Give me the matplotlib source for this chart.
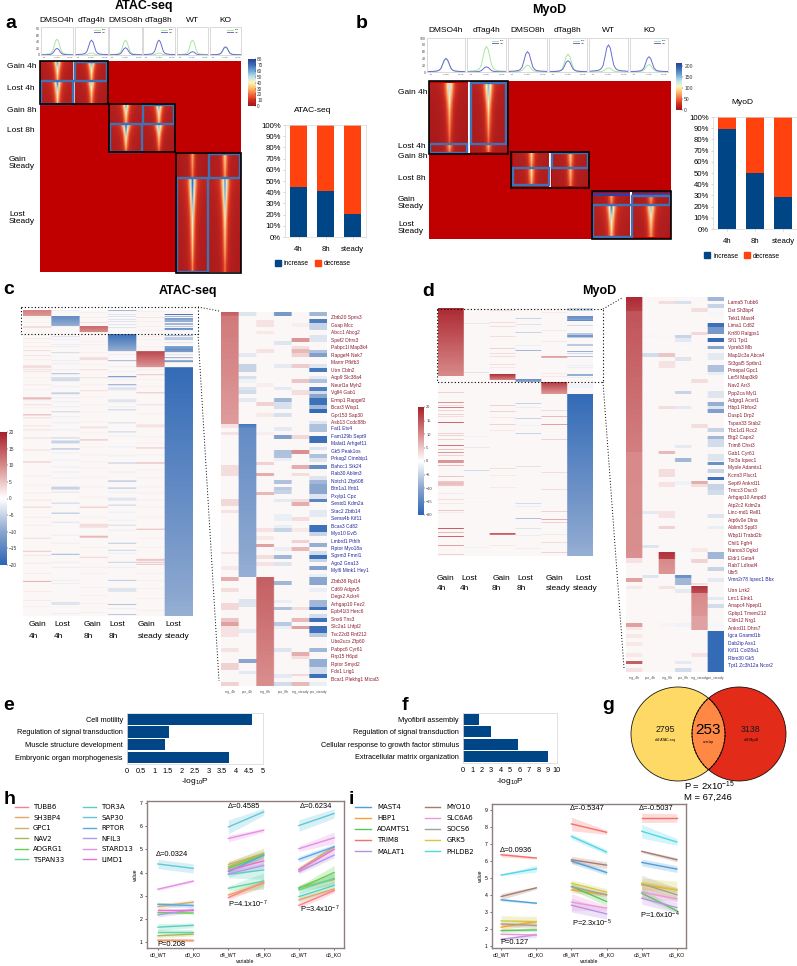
import numpy as np
import matplotlib
matplotlib.use('Agg')
import matplotlib.pyplot as plt
from matplotlib.colors import LinearSegmentedColormap
from matplotlib.patches import Rectangle, Circle, Patch

plt.rcParams['font.family'] = ['Liberation Sans', 'DejaVu Sans']
plt.rcParams['mathtext.default'] = 'regular'
W, H = 797, 966
fig = plt.figure(figsize=(W / 100, H / 100), dpi=100, facecolor='white')

# ---------- DATA ----------
bar_cats = ['4h', '8h', 'steady']
atac_increase = [45, 41, 20.5]
myod_increase = [89.5, 50, 29]
pct_labels = ['%d%%' % v for v in range(0, 101, 10)]

mini_heads = ['DMSO4h', 'dTag4h', 'DMSO8h', 'dTag8h', 'WT', 'KO']
profile_shape = [.03, .03, .04, .04, .05, .06, .08, .13, .25, .55, .88, 1, .88, .55, .25, .13, .08, .06, .05, .04, .04, .03, .03]
a_lost_peak = [20, 45, 22, 45, 10, 25]
a_gain_peak = [48, 6, 45, 6, 45, 23]
b_lost_peak = [40, 15, 60, 33, 80, 45]
b_gain_peak = [38, 75, 20, 52, 12, 22]

tor_short = [[5, 5, 5, 6, 7, 8, 11, 20, 38, 60], [4, 5, 5, 5, 6, 7, 9, 15, 30, 48],
             [4, 4, 4, 5, 5, 6, 8, 12, 24, 40], [3, 4, 4, 4, 5, 5, 7, 10, 20, 34],
             [3, 3, 4, 4, 4, 5, 6, 9, 17, 29]]
tor_long = [[6, 6, 6, 7, 8, 10, 14, 26, 46, 66], [5, 5, 5, 6, 6, 8, 11, 20, 38, 60],
            [4, 4, 5, 5, 6, 7, 9, 14, 30, 50], [4, 4, 4, 5, 5, 6, 8, 11, 24, 42],
            [3, 4, 4, 4, 5, 5, 7, 10, 20, 36], [3, 3, 4, 4, 4, 5, 6, 9, 17, 32],
            [3, 3, 3, 4, 4, 5, 6, 8, 14, 28], [3, 3, 3, 3, 4, 4, 5, 7, 11, 22]]
tor_faint = [[3, 3, 4, 4, 4, 5, 6, 9, 18, 30], [3, 3, 3, 4, 4, 4, 5, 8, 16, 27], [3, 3, 3, 3, 4, 4, 5, 7, 13, 23]]

# heat c: per-column (row, value) stripes; whole-block gradients (col, start, stop, top, bottom)
c_rows = 306
c_blocks = [(0, 0, 7, 11, 9), (1, 7, 17, -14, -9), (2, 17, 23, 13, 10), (3, 25, 42, -18, -9),
            (4, 42, 58, 16, 9), (5, 58, 306, -19, -9)]
c_col1 = [(8, 1.5), (13, 1.5), (17, 3), (18, 3), (29, 2), (33, 1.5), (37, 2), (41, 3), (46, 2.5), (50, 1.5), (56, 3), (57, 3), (58, 3), (60, 2.5), (62, 2.5), (68, 1.5), (75, 2), (80, 1.5), (88, 6), (89, 6), (90, 2), (95, 3), (98, 1.5), (105, 7), (108, 3), (116, 2.5), (120, 3), (128, 3), (140, 3), (152, 5), (166, 2), (175, 1.5), (183, 2), (190, 2.5), (197, 4), (207, 2), (215, 2), (228, 3), (241, 5), (245, 2.5), (253, 2), (263, 2), (271, 7), (281, 2), (290, 2), (296, 1.5)]
c_col2 = [(1, -2), (27, -3), (30, -2), (35, -2), (37, -2), (43, -4), (51, -2), (54, -2), (60, -2), (64, -7), (68, -4), (69, -4), (70, -4), (71, -4), (77, -2), (83, -5), (84, -5), (88, -2), (92, -2), (97, -2), (102, -5), (107, -2), (113, -2), (120, -2), (128, -5), (131, -5), (132, -5), (133, -5), (139, -8), (143, -2), (150, -2), (157, -2), (162, -2), (168, -2), (177, -5), (178, -5), (179, -5), (182, -3), (193, -5), (203, -7), (212, -3), (225, -2), (233, -2), (244, -8), (252, -2), (257, -2), (270, -2), (273, -2), (292, -3), (293, -3), (294, -3), (303, -2)]
c_col3 = [(3, 1.5), (8, 1.5), (13, 3), (32, 1.5), (35, 1.5), (43, 1.5), (48, 3), (49, 3), (50, 3), (55, 1.5), (60, 3), (68, 3), (75, 1.5), (81, 3), (87, 1.5), (95, 1.5), (102, 1.5), (112, 1.5), (117, 2.5), (118, 2.5), (123, 1.5), (130, 6), (137, 1.5), (145, 1.5), (152, 1.5), (158, 1.5), (167, 1.5), (177, 1.5), (187, 1.5), (197, 5), (207, 1.5), (214, 3), (215, 3), (216, 3), (217, 3), (226, 6), (227, 6), (237, 1.5), (247, 4), (257, 1.5), (263, 1.5), (277, 1.5), (285, 1.5), (293, 1.5), (302, 1.5)]
c_col4 = [(1, -8), (5, -3), (7, -3), (10, -3), (12, -3), (15, -3), (18, -3), (45, -2), (51, -8), (57, -2), (62, -2), (67, -14), (70, -2), (75, -10), (78, -3), (79, -3), (80, -3), (90, -3), (91, -3), (92, -3), (97, -2), (100, -5), (113, -4), (122, -5), (126, -2), (137, -2), (146, -2), (153, -6), (162, -2), (171, -8), (178, -7), (182, -2), (188, -3), (189, -3), (190, -3), (195, -5), (202, -2), (210, -2), (215, -4), (220, -2), (233, -6), (240, -5), (243, -2), (252, -5), (257, -2), (270, -6), (278, -3), (279, -3), (280, -3), (281, -3), (294, -7), (298, -2), (304, -6)]
c_col5 = [(2, 1.5), (8, 2.5), (12, 1.5), (17, 1.5), (21, 1.5), (27, 1.5), (30, 1.5), (37, 1.5), (60, 2), (65, 5), (70, 1.5), (77, 1.5), (83, 5), (95, 3), (104, 1.5), (115, 2.5), (116, 2.5), (117, 2.5), (127, 1.5), (133, 1.5), (138, 5), (145, 1.5), (153, 7), (160, 1.5), (168, 1.5), (177, 1.5), (183, 1.5), (190, 1.5), (197, 1.5), (207, 1.5), (219, 6), (228, 1.5), (237, 1.5), (249, 5), (250, 5), (252, 5), (254, 5), (263, 1.5), (270, 1.5), (278, 1.5), (288, 1.5), (300, 1.5)]
c_col6 = [(0, -9), (5, -17), (7, -8), (9, -12), (10, -10), (11, -9), (12, -9), (14, -8), (15, -8), (17, -6), (19, -14), (20, -12), (26, -8), (28, -6), (29, -6), (30, -6), (33, -3), (37, -12), (38, -12), (39, -12), (40, -14), (41, -12), (42, -12), (45, -3), (48, -9), (51, -11), (52, -11)]

# heat d
d_rows = 248
d_blocks = [(0, 0, 68, 19, 10), (2, 66, 72, 18, 11), (3, 71, 74, -13, -10), (4, 74, 86, 17, 9), (5, 86, 248, -19, -9)]
d_col1 = [(84, 4), (94, 9), (97, 3), (99, 11), (102, 4), (106, 4), (108, 3), (114, 13), (125, 4), (127, 4), (131, 4), (137, 12), (141, 5), (144, 9), (147, 4), (152, 9), (153, 9), (154, 9), (157, 6), (168, 5), (173, 5), (174, 5), (175, 6), (176, 5), (177, 5), (185, 2), (191, 3), (195, 2), (202, 5), (204, 2), (220, 14), (224, 6), (228, 13), (237, 8), (246, 4)]
d_col2 = [(15, -2.5), (56, -1), (64, -3), (128, -1.5), (139, -2.5), (162, -4), (190, -1), (193, -1), (230, -1), (239, -1.5)]
d_col3 = [(2, 3), (14, 3), (18, 3), (28, 3), (40, 4), (45, 3), (48, 3), (56, 3), (59, 2), (97, 4), (103, 4), (109, 2), (116, 4), (122, 2), (160, 3), (167, 2), (179, 2), (225, 14), (226, 12), (237, 2)]
d_col4 = [(1, -1), (10, -5), (16, -3), (24, -5), (37, -2), (42, -8), (48, -1), (95, -5), (99, -2), (110, -5), (117, -1.5), (125, -5), (158, -3), (176, -1), (195, -4), (198, -2), (210, -7), (220, -3), (227, -2), (240, -2)]
d_col5 = [(4, 2), (22, 2), (33, 2), (48, 8), (49, 7), (65, 2), (68, 2), (102, 3), (108, 6), (116, 8), (131, 4), (164, 3), (181, 3), (203, 4), (211, 7), (214, 4), (226, 2), (234, 3), (244, 4)]
d_col6 = [(0, -5), (1, -5), (2, -5), (8, -13), (9, -13), (10, -12), (11, -11), (12, -14), (17, -4), (25, -6), (26, -6), (27, -12), (28, -12), (29, -6), (36, -6), (37, -6), (43, -9), (45, -4), (48, -7), (57, -2), (59, -2), (66, -9), (67, -9), (69, -2), (76, -1.5), (77, -1.5), (78, -1.5), (79, -1.5)]

# zoomed c: (start, stop, value) per column
zc_rows = 374
zc_blocks = [(0, 0, 4, 14, 13), (0, 4, 112, 11.5, 8.5), (1, 112, 116, -17, -15), (1, 116, 265, -14, -9), (2, 265, 374, 14, 9.5)]
zc_col1 = [(112, 116, 2.5), (120, 123, 2.5), (153, 164, 3), (187, 194, 3.5), (198, 201, 2.5), (240, 242, 2.5), (254, 258, 2), (265, 269, 7), (276, 280, 3), (291, 298, 3.5), (306, 310, 5), (310, 314, 8), (314, 325, 2.5), (336, 340, 2.5), (351, 358, 4), (370, 374, 4)]
zc_col2 = [(0, 4, -3), (41, 45, -2.5), (52, 60, -5), (64, 67, -3.5), (67, 71, -1.5), (75, 78, -3), (78, 82, -4), (86, 90, -2.5), (287, 295, -3), (317, 321, -2.5), (347, 351, -10), (359, 362, -2.5)]
zc_col3 = [(8, 15, 2.5), (19, 22, 2), (37, 41, 2.5), (71, 75, 1.5), (90, 94, 4), (101, 105, 2), (120, 123, 1.5), (150, 153, 4), (161, 164, 7), (180, 183, 6), (216, 220, 2.5), (224, 228, 2), (232, 235, 8), (243, 247, 3), (250, 254, 2.5)]
zc_col4 = [(0, 4, -12), (29, 33, -3), (52, 56, -2.5), (75, 78, -2.5), (86, 90, -8), (90, 97, -3.5), (101, 105, -3.5), (115, 119, -2.5), (123, 127, -11), (138, 146, -7), (146, 149, -2), (168, 172, -7), (175, 178, -6), (178, 182, -5), (187, 190, -2.5), (202, 209, -2), (213, 216, -2), (216, 220, -5), (235, 239, -2), (243, 247, -8), (250, 254, -3), (269, 273, -8), (288, 291, -2), (295, 298, -7), (310, 314, -6), (314, 317, -2), (336, 340, -3), (362, 366, -2.5), (370, 374, -4)]
zc_col5 = [(11, 15, 1.5), (26, 30, 9), (34, 37, 3), (37, 41, 6), (41, 45, 4), (52, 56, 4.5), (67, 71, 5), (78, 83, 3), (123, 127, 3.5), (138, 142, 9.5), (153, 157, 7), (161, 164, 3), (187, 190, 3), (190, 194, 7), (205, 209, 3), (216, 220, 2), (228, 231, 4), (235, 239, 6), (295, 298, 3), (306, 310, 6), (314, 317, 8), (340, 344, 7), (344, 347, 3), (362, 364, 3.5), (370, 374, 6)]
zc_col6 = [(0, 4, -8), (7, 11, -16), (11, 18, -5), (23, 30, -3), (38, 41, -7), (41, 45, -11), (52, 56, -3), (56, 60, -17), (64, 67, -2.5), (67, 71, -7), (75, 79, -16), (79, 82, -4), (82, 86, -10), (86, 93, -18), (93, 97, -8), (97, 101, -19), (109, 112, -3), (112, 120, -7), (124, 131, -18), (135, 138, -3), (142, 146, -7), (146, 150, -3), (153, 157, -14), (164, 168, -3), (168, 172, -8), (172, 182, -10), (182, 187, -3), (187, 190, -15), (198, 205, -2.5), (213, 220, -18), (220, 224, -5), (231, 235, -9), (239, 243, -4), (243, 247, -18), (247, 250, -5), (254, 258, -11), (262, 265, -2), (265, 273, -10), (276, 280, -2), (288, 295, -8), (295, 298, -18), (302, 306, -4), (306, 310, -18), (314, 321, -18), (321, 325, -6), (336, 340, -8), (347, 355, -9), (355, 362, -4), (362, 366, -18), (370, 374, -2)]

# zoomed d
zd_rows = 375
zd_blocks = [(0, 0, 14, 19, 17), (0, 14, 155, 15, 11), (0, 155, 261, 10, 9.5), (2, 255, 262, 18, 17), (2, 262, 277, 10, 9), (3, 278, 281, -13, -13), (3, 281, 288, -8, -8), (4, 289, 296, 18, 16), (4, 296, 319, 10, 9), (4, 319, 333, 8, 8), (5, 334, 375, -19, -19)]
zd_col1 = [(261, 266, 2.5), (281, 285, 8), (289, 292, 2), (326, 330, 8), (330, 333, 2), (337, 341, 2), (345, 349, 2), (356, 360, 2), (364, 367, 14), (371, 375, 2.5)]
zd_col2 = [(38, 41, -1), (56, 60, -4), (214, 217, -2.5), (248, 251, -3), (278, 281, -3)]
zd_col3 = [(4, 7, 3), (38, 41, .8), (56, 60, 5), (64, 71, 2.5), (109, 112, 3), (154, 157, 6), (172, 180, 3), (185, 190, 2.5), (214, 221, 2.5), (229, 232, 4), (289, 292, 2.5), (326, 330, 1)]
zd_col4 = [(4, 7, -3.5), (38, 41, -5), (41, 45, -2.5), (49, 52, -.7), (60, 64, -3), (94, 97, -5), (109, 112, -2.5), (148, 151, -2.5), (161, 165, -8), (184, 188, -1.5), (255, 262, -.7), (292, 296, -2.5), (326, 330, -1.5), (364, 367, -2.5), (371, 375, -4)]
zd_col5 = [(11, 15, 3), (35, 38, 3.5), (82, 86, 3), (127, 131, 3), (184, 187, 7), (187, 190, 3), (251, 255, 2), (262, 266, 4), (286, 288, 3), (356, 360, 2.5)]
zd_col6 = [(0, 4, -8), (7, 11, -5), (15, 18, -1), (26, 30, -18), (30, 37, -12), (41, 45, -19), (49, 52, -10), (56, 63, -2.5), (68, 75, -7), (75, 78, -2), (94, 101, -3), (105, 109, -9), (109, 112, -3), (112, 116, -11), (131, 135, -5), (139, 142, -8), (142, 150, -4), (157, 164, -3), (165, 168, -13), (172, 176, -5), (180, 183, -18), (187, 193, -5), (193, 198, -4), (217, 221, -3), (229, 232, -2), (255, 262, -8), (270, 274, -5), (281, 285, -2.5), (300, 303, -2.5), (307, 311, -4), (326, 330, -1)]

zc_red1 = ['Zbtb20 Spns3', 'Gsap Mcc', 'Abcc1 Abcg2', 'Spef2 Dhrs3', 'Pabpc1l Map3k4', 'Rapgef4 Nek7', 'Manrr Pfkfb3', 'Utrn Cbln2', 'Aqp9 Slc38a4', 'Neurl1a Myh2', 'Vgll4 Gab1', 'Ermp1 Rapgef2', 'Bcar3 Wisp1', 'Gpr153 Sap30', 'Asb13 Ccdc88b']
zc_blue = ['Fat1 Etv4', 'Fam129b Sept9', 'Malat1 Arhgef11', 'Gk5 Peak1os', 'Prkag2 Ctnnbip1', 'Bahcc1 Stk24', 'Rab30 Ablim3', 'Notch1 Zfp608', 'Btn1a1 Ifnb1', 'Pxylp1 Cpz', 'Sestd1 Kdm2a', 'Stac2 Zbtb14', 'Sema4b Kif11', 'Bcas3 Cd82', 'Myo10 Evi5', 'Lmbrd1 Pthlh', 'Rptor Myo18a', 'Sgsm3 Fmnl1', 'Ago2 Gna13', 'Myl6 Mink1 Hey1']
zc_red2 = ['Zbtb38 Rpl14', 'Cd69 Adgrv5', 'Degs2 Ackr4', 'Arhgap10 Fez2', 'Epb41l3 Herc6', 'Snx6 Tns3', 'Slc2a1 Lhfpl2', 'Tsc22d3 Rnf212', 'Ube2ucs Zfp60', 'Pabpc6 Cyr61', 'Rrp15 H6pd', 'Rptor Smyd2', 'Fdx1 Lrig1', 'Bcar1 Plekhg1 Mical3']
zd_red1 = ['Lama5 Tubb6', 'Dst Sh3bp4', 'Tekt1 Mast4', 'Lima1 Cd82', 'Krt80 Ralgps1', 'Sfi1 Tpt1', 'Vpreb3 Mb', 'Map1lc3a Abca4', 'St3gal5 Sptbn1', 'Pmepal Gpc1', 'Ler5l Map3k9', 'Nav2 Arr3', 'Ppp2ca Myl1', 'Adgrg1 Acvrl1', 'Hbp1 Rbfox2', 'Dusp1 Drp2', 'Tspan33 Stab2', 'Tbc1d1 Rcc2', 'Btg2 Capn2', 'Trim8 Chst3', 'Gab1 Cyr61', 'Tor3a Iqsec1', 'Myole Adamts1', 'Kcnn3 Plscr1', 'Sept9 Ankrd11', 'Tmcc3 Dscr3', 'Arhgap10 Ampd3', 'Atp2c2 Kdm2a', 'Linc-md1 Rell1', 'Atp6v0e Dlna', 'Ablim3 Sppl3', 'Wbp1l Trabd2b', 'Chil1 Fgfr4', 'Nanos3 Dgkd', 'Eldr1 Gata4', 'Rab7 Ldlrad4', 'Ubr5']
zd_blue1 = ['Vmn2r78 Iqsec1 Bbx']
zd_red2 = ['Utrn Lrrk2', 'Lrrc1 Elnk1', 'Anapc4 Npepl1', 'Gpbp1 Tmem212', 'Cldn12 Nrg1', 'Ankrd11 Dhrs7']
zd_blue2 = ['Igca Gnamd1b', 'Dab2ip Ass1', 'Kif11 Col28a1', 'Rbm30 Gk5', 'Tpt1 Zc3h12a Ncor2']
zoom_cols = ['reg_4h', 'pro_4h', 'reg_8h', 'pro_8h', 'reg_steady', 'pro_steady']

e_terms = ['Cell motility', 'Regulation of signal transduction', 'Muscle structure development', 'Embryonic organ morphogenesis']
e_vals = [4.6, 1.55, 1.4, 3.75]
f_terms = ['Myofibril assembly', 'Regulation of signal transduction', 'Cellular response to growth factor stimulus', 'Extracellular matrix organization']
f_vals = [1.75, 3.0, 5.8, 9.0]

venn_counts = ['2795', '253', '3138']

time_labels = ['d0_WT', 'd0_KO', 'd4_WT', 'd4_KO', 'd6_WT', 'd6_KO']
h_genes = ['TUBB6', 'SH3BP4', 'GPC1', 'NAV2', 'ADGRG1', 'TSPAN33', 'TOR3A', 'SAP30', 'RPTOR', 'NFIL3', 'STARD13', 'LIMD1']
h_colors = ['#f9808f', '#efa162', '#cfae68', '#abb855', '#63cf4e', '#5fd6a0', '#58d0b8', '#62c6d8', '#5aa8e6', '#b09aee', '#e48fe6', '#ec70d2']
h_vals = [[1.07, 1.06, 2.92, 3.58, 2.58, 3.22], [1.1, 1.1, 3.03, 3.53, 2.82, 3.29],
          [2.53, 2.72, 4.35, 4.82, 4.14, 5.11], [1.27, 1.34, 4.25, 4.82, 3.35, 3.7],
          [2.27, 2.25, 4.18, 4.75, 3.32, 4.0], [1.43, 1.43, 3.32, 3.63, 3.25, 3.75],
          [1.64, 1.72, 3.92, 4.11, 2.96, 3.44], [4.37, 4.18, 5.97, 6.62, 6.03, 6.55],
          [2.63, 2.57, 4.04, 4.75, 4.57, 5.11], [2.17, 2.39, 3.94, 4.3, 4.04, 4.75],
          [3.28, 3.63, 5.47, 5.83, 5.03, 5.5], [2.36, 2.36, 4.1, 4.5, 4.11, 5.0]]
h_band = [[.05, .05, .1, .15, .12, .1], [.05, .05, .12, .2, .12, .1],
          [.12, .1, .15, .15, .12, .1], [.08, .08, .2, .25, .12, .25],
          [.05, .05, .15, .15, .1, .3], [.1, .1, .1, .35, .15, .25],
          [.15, .1, .15, .4, .2, .2], [.2, .2, .3, .15, .25, .2],
          [.08, .1, .12, .1, .12, .12], [.1, .1, .12, .12, .1, .12],
          [.06, .06, .15, .08, .12, .25], [.06, .06, .15, .15, .12, .15]]
i_genes = ['MAST4', 'HBP1', 'ADAMTS1', 'TRIM8', 'MALAT1', 'MYO10', 'SLC6A6', 'SOCS6', 'GRK5', 'PHLDB2']
i_colors = ['#4f9fd8', '#fb9f32', '#58c858', '#f4706a', '#bb92e2', '#a87a70', '#ee96d8', '#a0a0a0', '#cfc945', '#50d6e6']
i_vals = [[3.73, 3.53, 6.0, 5.33, 5.92, 5.53], [2.12, 2.45, 4.31, 4.02, 4.6, 4.31],
          [1.92, 1.96, 4.51, 3.63, 4.12, 3.08], [6.37, 6.18, 8.18, 7.69, 8.53, 8.53],
          [1.41, 1.67, 3.41, 2.9, 3.82, 3.27], [3.92, 4.43, 6.08, 5.76, 6.57, 6.08],
          [1.71, 1.67, 3.59, 3.24, 4.18, 3.78], [2.31, 2.22, 4.5, 4.02, 4.67, 4.02],
          [2.49, 2.45, 4.7, 4.18, 4.7, 4.31], [5.18, 5.55, 7.45, 6.53, 7.75, 7.12]]
i_band = [[.08, .05, .15, .15, .2, .2], [.2, .08, .15, .1, .25, .15],
          [.1, .1, .2, .25, .3, .08], [.12, .06, .4, .12, .27, .25],
          [.06, .15, .4, .3, .35, .3], [.18, .08, .2, .2, .08, .12],
          [.05, .05, .5, .15, .35, .15], [.12, .2, .15, .15, .5, .4],
          [.3, .3, .2, .2, .3, .5], [.05, .2, .15, .15, .4, .2]]

# ---------- HELPERS ----------
def A(x0, y0, x1, y1, **kw):
    return fig.add_axes([x0 / W, 1 - y1 / H, (x1 - x0) / W, (y1 - y0) / H], **kw)

px = fig.add_axes([0, 0, 1, 1], zorder=5)
px.axis('off'); px.patch.set_alpha(0)

def T(x, y, s, size=6, **kw):
    kw.setdefault('va', 'center'); kw.setdefault('ha', 'left')
    px.text(x, y, s, fontsize=size, **kw)

tor_cmap = LinearSegmentedColormap.from_list('tor', [(0, '#a41618'), (.06, '#b4201e'), (.13, '#d4301f'), (.25, '#f46d43'),
    (.38, '#fdc070'), (.5, '#fff5c0'), (.62, '#bfe3ee'), (.75, '#6fa8d5'), (.87, '#4070b5'), (1, '#2a3f95')])
div_cmap = LinearSegmentedColormap.from_list('dv', [(0, '#2b65b5'), (.25, '#8aa6cf'), (.42, '#dde4ef'),
    (.5, '#ffffff'), (.58, '#f4dcdc'), (.75, '#d88a8a'), (1, '#a8202a')])

def tornado(x0, y0, x1, y1, tmpl, k=1.0):
    m = np.array(tmpl, float) * k
    m = np.hstack([m, m[:, -2::-1]])
    px.imshow(m, extent=[x0, x1, y1, y0], cmap=tor_cmap, vmin=0, vmax=80, aspect='auto', interpolation='bilinear', zorder=2)

def box(x0, y0, x1, y1, color='#3f73b8', lw=1.7, z=3, ls='-'):
    px.add_patch(Rectangle((x0, y0), x1 - x0, y1 - y0, fill=False, ec=color, lw=lw, zorder=z, ls=ls))

def mini(x0, y0, x1, y1, lost, gain, ymax, yticks, first, legend):
    ax = A(x0, y0, x1, y1)
    xs = np.arange(len(profile_shape))
    ax.plot(xs, np.array(profile_shape) * gain, color='#a8e6a0', lw=.7, label='gain')
    ax.plot(xs, np.array(profile_shape) * lost, color='#6a6ad6', lw=.7, label='lost')
    ax.set_xlim(0, xs[-1]); ax.set_ylim(0, ymax)
    ax.set_xticks([2, 11, 20]); ax.set_xticklabels(['-1.0', 'center', '1.0Kb'], fontsize=1.7, color='#555555')
    ax.set_yticks(yticks)
    if first:
        ax.set_yticklabels([str(v) for v in yticks], fontsize=2.5, color='#444444')
    else:
        ax.set_yticklabels([]); ax.tick_params(axis='y', length=0)
    ax.tick_params(length=.6, width=.2, pad=.5, color='#999999')
    for s in ax.spines.values():
        s.set_color('#d4d4d4'); s.set_linewidth(.6)
    if legend:
        ax.legend(fontsize=1.6, frameon=False, loc='upper right', handlelength=3, borderpad=.3)

def colorbar(x0, y0, x1, y1, cmap, vmin, vmax, ticks, size):
    ax = A(x0, y0, x1, y1)
    g = np.linspace(vmax, vmin, 256)[:, None]
    ax.imshow(g, extent=[0, 1, vmin, vmax], cmap=cmap, vmin=vmin, vmax=vmax, aspect='auto')
    ax.set_xticks([]); ax.yaxis.tick_right(); ax.set_yticks(ticks)
    ax.set_yticklabels([str(t).replace('-', '\u2212') for t in ticks], fontsize=size, color='#333333')
    ax.tick_params(axis='y', length=.8, width=.3, pad=.8)
    for s in ax.spines.values():
        s.set_visible(False)

def stacked(x0, y0, x1, y1, inc, title, tx, ty, ly, lx):
    ax = A(x0, y0, x1, y1)
    xs = np.arange(3)
    ax.bar(xs, inc, .66, color='#004586')
    ax.bar(xs, [100 - v for v in inc], .66, bottom=inc, color='#ff420e')
    ax.set_xlim(-.5, 2.5); ax.set_ylim(0, 100)
    ax.set_xticks(xs); ax.set_xticklabels(bar_cats, fontsize=5.6)
    ax.set_yticks(range(0, 101, 10)); ax.set_yticklabels(pct_labels, fontsize=5.6)
    ax.tick_params(length=1.5, width=.4, color='#b0b0b0', pad=1.5)
    ax.tick_params(axis='x', pad=5)
    for s in ('top', 'right', 'bottom', 'left'):
        ax.spines[s].set_color('#d8d8d8'); ax.spines[s].set_linewidth(.5)
    T(tx, ty, title, 6, ha='center')
    fig.legend(handles=[Patch(color='#004586', label='increase'), Patch(color='#ff420e', label='decrease')],
               ncol=2, fontsize=4.8, frameon=False, loc='center', bbox_to_anchor=(lx / W, 1 - ly / H),
               handlelength=.9, handleheight=.9, handletextpad=.4, columnspacing=.9, borderpad=0)

def heat(x0, y0, x1, y1, nrows, blocks, cols, bg=.7, stripe3=False):
    m = np.full((nrows, 6), float(bg))
    for c, col in enumerate(cols):
        for it in col:
            if stripe3:
                m[it[0]:it[1], c] = it[2]
            else:
                m[it[0], c] = it[1]
    for c, a, b, t, u in blocks:
        m[a:b, c] = np.linspace(t, u, b - a)
    # repeat across columns so the smoothing acts only along the rows
    m = np.repeat(m, 40, axis=1)
    ax = A(x0, y0, x1, y1)
    ax.imshow(m, cmap=div_cmap, vmin=-20, vmax=20, aspect='auto', interpolation='bilinear')
    ax.axis('off')
    return ax

def hbars(x0, y0, x1, y1, terms, vals, xmax, ticks, ticklabels):
    ax = A(x0, y0, x1, y1)
    ys = np.arange(len(vals))
    ax.barh(ys, vals, .9, color='#004586')
    ax.set_ylim(len(vals) - .5, -.5); ax.set_xlim(0, xmax)
    ax.set_yticks(ys); ax.set_yticklabels(terms, fontsize=5.3)
    ax.set_xticks(ticks); ax.set_xticklabels(ticklabels, fontsize=5.3)
    ax.tick_params(length=0, pad=3)
    for s in ax.spines.values():
        s.set_color('#dcdcdc'); s.set_linewidth(.6)
    ax.set_xlabel('-log$_{10}$P', fontsize=6, labelpad=1)

def lines(x0, y0, x1, y1, vals, band, colors, genes, xlim, ylim, yticks):
    ax = A(x0, y0, x1, y1)
    for v, b, c, g in zip(vals, band, colors, genes):
        v = np.array(v); b = np.array(b)
        for k, lab in ((0, g), (2, None), (4, None)):
            xs = [k, k + 1]
            ax.fill_between(xs, v[k:k + 2] - b[k:k + 2], v[k:k + 2] + b[k:k + 2], color=c, alpha=.25, lw=0)
            ax.plot(xs, v[k:k + 2], color=c, lw=1.0, label=lab)
    ax.set_xlim(*xlim); ax.set_ylim(*ylim)
    ax.set_xticks(range(6)); ax.set_xticklabels(time_labels, fontsize=3.7)
    ax.set_yticks(yticks); ax.set_yticklabels([str(t) for t in yticks], fontsize=3.7)
    ax.tick_params(length=1.5, width=.4, pad=1.5)
    ax.set_xlabel('variable', fontsize=3.7, labelpad=1.5)
    ax.set_ylabel('value', fontsize=3.7, labelpad=1.5)
    for s in ax.spines.values():
        s.set_color('#8d7f7c'); s.set_linewidth(1.0)
    return ax

# ---------- LETTERS / TITLES ----------
for s, x, y in [('a', 5, 24), ('b', 356, 24), ('c', 3, 290), ('d', 422, 291), ('e', 3, 706),
                ('f', 402, 705), ('g', 602, 705), ('h', 4, 799), ('i', 349, 799)]:
    T(x, y, s, 14, fontweight='bold')
T(144, 6, 'ATAC-seq', 9, fontweight='bold', ha='center')
T(549, 10, 'MyoD', 9, fontweight='bold', ha='center')
T(188, 291, 'ATAC-seq', 9, fontweight='bold', ha='center')
T(599, 291, 'MyoD', 9, fontweight='bold', ha='center')

# ---------- PANEL a ----------
a_minis = [(41, 73), (75, 108), (109, 142), (143, 175), (177, 208), (210, 241)]
for i, (x0, x1) in enumerate(a_minis):
    mini(x0, 27, x1, 55, a_lost_peak[i], a_gain_peak[i], 85, [0, 20, 40, 60, 80], i == 0, i % 2 == 1)
    T((x0 + x1) / 2, 21, mini_heads[i], 6, ha='center')
px.add_patch(Rectangle((40, 61), 201.5, 211, fc='#c00000', ec='none', zorder=1))
for (x0, x1, xm0, xm1, y0, ym, y1, t1, t2, k1, k2, k3, k4) in [
        (41, 108, 73.5, 75.5, 61, 81, 104, tor_short, tor_short, 1.0, 1.0, 1.1, .85),
        (110, 175, 142, 143.5, 104, 124, 152, tor_short, tor_long, 1.0, 1.05, 1.1, .85),
        (177, 241, 208, 209.5, 153, 178, 272, tor_faint, tor_long, .9, 1.15, 1.05, .95)]:
    for a0, a1, b0, b1, t, k in [(x0, xm0, y0, ym, t1, k1), (xm1, x1, y0, ym, t1, k2),
                                  (x0, xm0, ym, y1, t2, k3), (xm1, x1, ym, y1, t2, k4)]:
        tornado(a0, b0, a1, b1, t, k)
    px.add_patch(Rectangle((xm0, y0), xm1 - xm0, y1 - y0, fc='#d8d8d8', ec='none', zorder=2.5))
    box(xm1, y0 + .5, x1 - .5, ym - .5)
    box(x0 + .5, ym, xm0, y1 - .5)
for x0, y0, x1, y1 in [(40.5, 61, 108, 104), (109, 103.5, 175.5, 152), (176, 153, 241.5, 272.5)]:
    box(x0, y0, x1, y1, 'black', 1.2, 4)
for x, y, s in [(7.5, 67, 'Gain 4h'), (7, 89, 'Lost 4h'), (7.5, 110, 'Gain 8h'), (7.5, 131, 'Lost 8h'),
                (9, 163, 'Gain\nSteady'), (9, 218, 'Lost\nSteady')]:
    T(x, y, s, 6, linespacing=1.15)
colorbar(248, 59.5, 255, 106, tor_cmap, 0, 80, list(range(0, 81, 10)), 3.4)
stacked(285, 125, 366, 237, atac_increase, 'ATAC-seq', 313, 110, 263.5, 313)

# ---------- PANEL b ----------
b_minis = [(427, 465), (467, 506), (508, 547), (549, 587), (589, 628), (630, 668)]
for i, (x0, x1) in enumerate(b_minis):
    mini(x0, 38, x1, 72, b_lost_peak[i], b_gain_peak[i], 100, [0, 20, 40, 60, 80, 100], i == 0, i in (1, 3, 5))
    T((x0 + x1) / 2, 31, mini_heads[i], 6, ha='center')
px.add_patch(Rectangle((429, 81), 242, 158, fc='#c00000', ec='none', zorder=1))
tornado(430, 83, 468.5, 144, tor_long, .75); tornado(470, 83, 507, 144, tor_long, .85)
tornado(430, 144, 468.5, 152.5, tor_faint, 1.0); tornado(470, 144, 507, 152.5, tor_faint, 1.0)
tornado(513, 153, 550, 168, tor_faint, 1.1); tornado(552, 153, 589, 168, tor_faint, 1.1)
tornado(513, 168, 550, 186, tor_faint, 1.2); tornado(552, 168, 589, 186, tor_faint, 1.0)
tornado(593, 196, 630, 205, tor_faint, .9); tornado(632, 196, 670, 205, tor_faint, .9)
tornado(593, 205, 630, 237, tor_short, 1.1); tornado(632, 205, 670, 237, tor_short, .9)
px.add_patch(Rectangle((593, 192.5), 77, 3.5, fc='#3040a0', ec='none', zorder=2.5))
for x0, y0, x1, y1 in [(468.5, 81, 470.5, 153), (549.5, 153, 551.5, 187), (630, 192, 632, 238)]:
    px.add_patch(Rectangle((x0, y0), x1 - x0, y1 - y0, fc='white', ec='none', zorder=2.6))
for r in [(430, 144, 467, 152.5), (471, 83, 506, 144), (552, 153, 588.5, 168), (513, 168, 549, 185),
          (632, 196, 670, 205), (593, 205, 632, 237)]:
    box(*r)
for x0, y0, x1, y1 in [(429, 81, 508, 153.5), (511, 152, 589.5, 188), (592, 191, 671, 239)]:
    box(x0, y0, x1, y1, 'black', 1.2, 4)
for y, s in [(92, 'Gain 4h'), (146, 'Lost 4h'), (157, 'Gain 8h'), (179, 'Lost 8h'), (203, 'Gain\nSteady'), (228, 'Lost\nSteady')]:
    T(398, y, s, 6, linespacing=1.15)
colorbar(676, 63, 682, 110, tor_cmap, 0, 215, [0, 50, 100, 150, 200], 3.6)
stacked(713, 117, 797, 229, myod_increase, 'MyoD', 742, 102, 256, 742)

# ---------- PANEL c ----------
heat(23, 310, 193, 616, c_rows, c_blocks, [c_col1, c_col2, c_col3, c_col4, c_col5, c_col6])
box(21, 307, 198, 334, 'black', .8, 6, (0, (1, 2)))
colorbar(0, 432, 6.5, 565, div_cmap, -20, 20, list(range(-20, 21, 5)), 3.4)
for x, a, b in [(29, 'Gain', '4h'), (54, 'Lost', '4h'), (84, 'Gain', '8h'), (109, 'Lost', '8h'), (138, 'Gain', 'steady'), (165, 'Lost', 'steady')]:
    T(x, 625, a, 6); T(x, 636, b, 6)
heat(221, 312, 327, 686, zc_rows, zc_blocks, [zc_col1, zc_col2, zc_col3, zc_col4, zc_col5, zc_col6], stripe3=True)
px.plot([198, 219], [307, 311], color='black', lw=.7, ls=(0, (1, 2)))
px.plot([198, 219], [334, 681], color='black', lw=.7, ls=(0, (1, 2)))
for j, s in enumerate(zoom_cols):
    T(221 + 106 * (j + .5) / 6, 692, s, 2.5, ha='center', color='#555555')
RED, BLUE = '#8c1c30', '#26269c'
for group, y0, col in [(zc_red1, 318, RED), (zc_blue, 429, BLUE), (zc_red2, 582, RED)]:
    for k, s in enumerate(group):
        T(331, y0 + k * 7.47, s, 3.5, color=col)

# ---------- PANEL d ----------
heat(438, 308, 593, 556, d_rows, d_blocks, [d_col1, d_col2, d_col3, d_col4, d_col5, d_col6])
box(437, 309, 603, 382, 'black', .8, 6, (0, (1, 2)))
colorbar(418, 407, 424, 515, div_cmap, -20, 20, list(range(-20, 21, 5)), 2.8)
for x, a, x2, b in [(437, 'Gain', 437, '4h'), (461, 'Lost', 460, '4h'), (493, 'Gain', 492, '8h'),
                    (517, 'Lost', 517, '8h'), (546, 'Gain', 546, 'steady'), (575, 'Lost', 573, 'steady')]:
    T(x, 579, a, 6); T(x2, 589, b, 6)
heat(626, 297, 724, 672, zd_rows, zd_blocks, [zd_col1, zd_col2, zd_col3, zd_col4, zd_col5, zd_col6], stripe3=True)
px.plot([603, 622], [309, 298], color='black', lw=.7, ls=(0, (1, 2)))
px.plot([603, 624], [382, 668], color='black', lw=.7, ls=(0, (1, 2)))
for j, s in enumerate(zoom_cols):
    T(626 + 98 * (j + .5) / 6, 678, s, 2.5, ha='center', color='#555555')
for group, y0, col in [(zd_red1, 303, RED), (zd_blue1, 580, BLUE), (zd_red2, 590.7, RED), (zd_blue2, 635.7, BLUE)]:
    for k, s in enumerate(group):
        T(728, y0 + k * 7.5, s, 3.5, color=col)

# ---------- PANELS e, f ----------
hbars(127, 713, 263, 763.5, e_terms, e_vals, 5, [0, .5, 1, 1.5, 2, 2.5, 3, 3.5, 4, 4.5, 5],
      ['0', '0.5', '1', '1.5', '2', '2.5', '3', '3.5', '4', '4.5', '5'])
hbars(463, 713, 557, 763, f_terms, f_vals, 10, list(range(0, 11)), [str(i) for i in range(11)])

# ---------- PANEL g ----------
c1 = Circle((678, 734), 47, fc='#ffd966', ec='none', zorder=2)
c2 = Circle((739, 734), 47, fc='#e32b1a', ec='none', zorder=2.1)
px.add_patch(c1); px.add_patch(c2)
lens = Circle((678, 734), 47, fc='#ff8844', ec='black', lw=.7, ls=(0, (2, 1.5)), zorder=2.2)
px.add_patch(lens); lens.set_clip_path(c2)
lens2 = Circle((739, 734), 47, fc='none', ec='black', lw=.7, ls=(0, (2, 1.5)), zorder=2.3)
px.add_patch(lens2); lens2.set_clip_path(c1)
for cen in ((678, 734), (739, 734)):
    px.add_patch(Circle(cen, 47, fc='none', ec='black', lw=.6, zorder=2.25, alpha=.9))
T(665, 729.5, venn_counts[0], 6.3, ha='center', zorder=3, color='#1a1a1a')
T(708, 729.5, venn_counts[1], 11, ha='center', zorder=3)
T(751, 729.5, venn_counts[2], 6.3, ha='center', zorder=3, color='#1a1a1a')
T(665, 740, 'diff ATAC-seq', 2.4, ha='center', zorder=3)
T(708, 742, 'overlap', 2.4, ha='center', zorder=3)
T(751, 740, 'diff MyoD', 2.4, ha='center', zorder=3)
T(684, 786, 'P = 2x10$^{-15}$', 6.8)
T(684, 797, 'M = 67,246', 6.8)

# ---------- PANELS h, i ----------
ax_h = lines(147, 801, 344, 948, h_vals, h_band, h_colors, h_genes, (-.31, 5.28), (.74, 7.09), [1, 2, 3, 4, 5, 6, 7])
ax_i = lines(492, 804, 686, 948, i_vals, i_band, i_colors, i_genes, (-.26, 5.26), (.9, 9.35), [1, 2, 3, 4, 5, 6, 7, 8, 9])
for ax, x, y, ls_, hl, tp, sp in [(ax_h, 15, 804, .65, 1.9, .7, 2.7), (ax_i, 355, 804, .74, 2.3, .85, 2.0)]:
    h_, l_ = ax.get_legend_handles_labels()
    fig.legend(h_, l_, ncol=2, loc='upper left', bbox_to_anchor=(x / W, 1 - y / H),
               frameon=False, borderpad=0, borderaxespad=0, labelspacing=ls_, handlelength=hl,
               handletextpad=tp, columnspacing=sp, prop={'family': 'DejaVu Sans', 'size': 5.0})
for x, y, s in [(156, 855, '\u0394=0.0324'), (157, 944, 'P=0.208'), (228, 807, '\u0394=0.4585'), (228, 904, 'P=4.1x10$^{-7}$'),
                (300, 807, '\u0394=0.6234'), (300, 909, 'P=3.4x10$^{-7}$'),
                (500, 850, '\u0394=0.0936'), (500, 942, 'P=0.127'), (570, 809, '\u0394=-0.5347'), (572, 923, 'P=2.3x10$^{-5}$'),
                (639, 809, '\u0394=-0.5037'), (640, 915, 'P=1.6x10$^{-4}$')]:
    T(x, y, s, 5.4)

px.set_xlim(0, W); px.set_ylim(H, 0)
fig.savefig('out.png', dpi=100)
